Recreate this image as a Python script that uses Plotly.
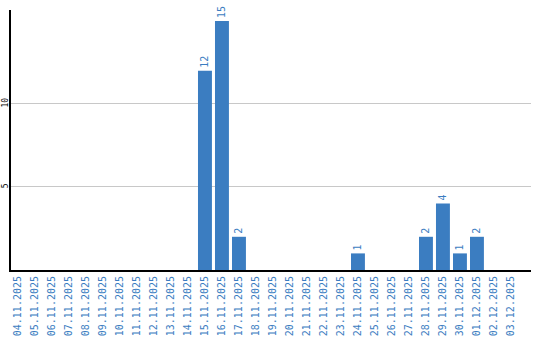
import plotly.graph_objects as go

dates = ["04.11.2025", "05.11.2025", "06.11.2025", "07.11.2025", "08.11.2025",
         "09.11.2025", "10.11.2025", "11.11.2025", "12.11.2025", "13.11.2025",
         "14.11.2025", "15.11.2025", "16.11.2025", "17.11.2025", "18.11.2025",
         "19.11.2025", "20.11.2025", "21.11.2025", "22.11.2025", "23.11.2025",
         "24.11.2025", "25.11.2025", "26.11.2025", "27.11.2025", "28.11.2025",
         "29.11.2025", "30.11.2025", "01.12.2025", "02.12.2025", "03.12.2025"]
values = [0, 0, 0, 0, 0, 0, 0, 0, 0, 0,
          0, 12, 15, 2, 0, 0, 0, 0, 0, 0,
          1, 0, 0, 0, 2, 4, 1, 2, 0, 0]
labels = [str(v) if v > 0 else "" for v in values]

blue = "#3b7dc1"
fig = go.Figure(go.Bar(
    x=dates, y=values, text=labels, textposition="outside", textangle=-90,
    marker=dict(color=blue, line=dict(width=0)),
    textfont=dict(family="DejaVu Sans Mono", size=10, color=blue),
    cliponaxis=False, hoverinfo="skip",
))
fig.update_layout(
    width=540, height=340, margin=dict(l=11, r=9, t=10, b=70),
    paper_bgcolor="white", plot_bgcolor="white", showlegend=False,
    bargap=0.18,
    xaxis=dict(type="category", range=[-0.41, 30.18], tickangle=-90,
               tickfont=dict(family="DejaVu Sans Mono", size=10, color=blue),
               showline=True, linecolor="black", linewidth=2, showgrid=False,
               ticks="", fixedrange=True, automargin=False),
    yaxis=dict(range=[0, 15.66], tickvals=[5, 10], ticktext=["5", "10"], tickangle=-90,
               tickfont=dict(family="DejaVu Sans Mono", size=8, color="black"),
               showline=True, linecolor="black", linewidth=2,
               showgrid=True, gridcolor="#c8c8c8", gridwidth=1, zeroline=False,
               ticks="", fixedrange=True, automargin=False, ticklabelstandoff=-2),
)
fig.write_html("out.html")
